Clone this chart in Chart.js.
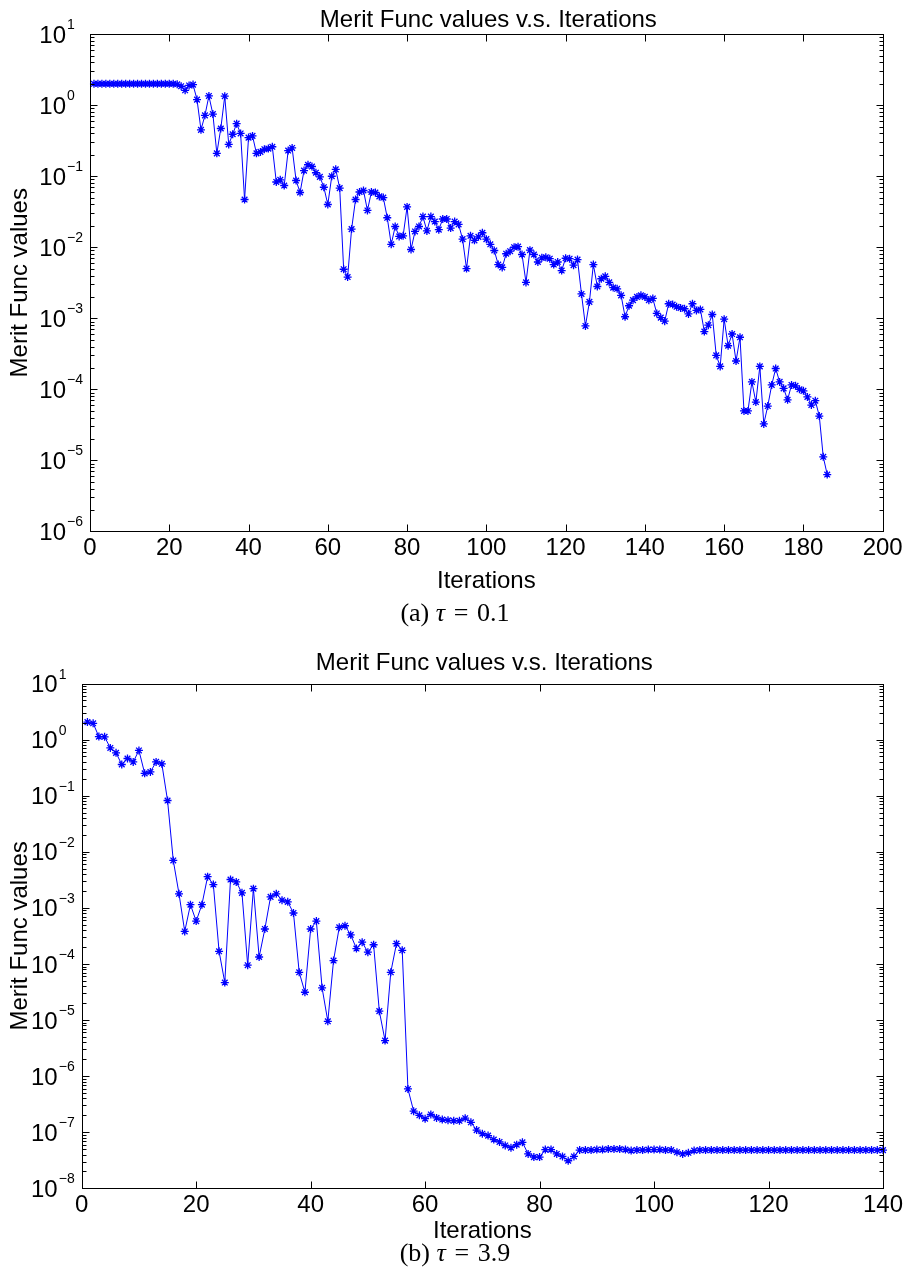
<!DOCTYPE html>
<html>
<head>
<meta charset="utf-8">
<script src="https://cdn.jsdelivr.net/npm/chart.js@4.4.1/dist/chart.umd.min.js"></script>
<style>
  body { margin: 0; background: #fff; }
  canvas { position: absolute; left: 0; }
  #chartA { top: 0; }
  #chartB { top: 640px; }
</style>
</head>
<body>
<canvas id="chartA" width="910" height="640"></canvas>
<canvas id="chartB" width="910" height="636"></canvas>
<script>
// merit function values, iteration 1..186 (tau = 0.1)
const meritA = [
  2.0, 2.0, 2.0, 2.0, 2.0, 2.0, 2.0, 2.0, 2.0, 2.0,
  2.0, 2.0, 2.0, 2.0, 2.0, 2.0, 2.0, 2.0, 2.0, 2.0,
  2.0, 1.97, 1.85, 1.62, 1.9, 1.95, 1.2, 0.45, 0.72, 1.35,
  0.75, 0.21, 0.47, 1.34, 0.28, 0.39, 0.55, 0.40, 0.047, 0.35,
  0.37, 0.21, 0.22, 0.24, 0.245, 0.26, 0.083, 0.089, 0.074, 0.23,
  0.25, 0.087, 0.059, 0.12, 0.145, 0.137, 0.112, 0.098, 0.07, 0.04,
  0.10, 0.125, 0.068, 0.0049, 0.0038, 0.018, 0.047, 0.06, 0.063, 0.033,
  0.06, 0.059, 0.052, 0.05, 0.026, 0.011, 0.0196, 0.0142, 0.0145, 0.037,
  0.0093, 0.0167, 0.0196, 0.027, 0.017, 0.027, 0.023, 0.0177, 0.025, 0.025,
  0.0186, 0.023, 0.021, 0.013, 0.005, 0.0145, 0.0125, 0.014, 0.016, 0.013,
  0.011, 0.009, 0.0057, 0.0052, 0.0081, 0.0088, 0.01, 0.0102, 0.0079, 0.0032,
  0.0091, 0.0079, 0.0062, 0.0071, 0.0072, 0.0069, 0.0057, 0.0062, 0.0047, 0.007,
  0.0069, 0.0056, 0.0067, 0.0022, 0.00078, 0.0017, 0.0057, 0.0028, 0.0036, 0.0039,
  0.0032, 0.0027, 0.0026, 0.0021, 0.00105, 0.0015, 0.0018, 0.0020, 0.0021, 0.0020,
  0.0018, 0.0019, 0.00117, 0.00102, 0.00091, 0.0016, 0.00156, 0.00145, 0.0014, 0.00136,
  0.00115, 0.0016, 0.00129, 0.00133, 0.00065, 0.0008, 0.00113, 0.0003, 0.00021, 0.00097,
  0.00041, 0.0006, 0.00025, 0.00054, 4.95e-5, 4.95e-5, 1.27e-4, 6.6e-5, 2.1e-4, 3.25e-5,
  5.8e-5, 1.15e-4, 1.96e-4, 1.27e-4, 1.03e-4, 7.1e-5, 1.15e-4, 1.12e-4, 1.0e-4, 9.5e-5,
  7.8e-5, 6.0e-5, 6.9e-5, 4.2e-5, 1.12e-5, 6.3e-6
];

// merit function values, iteration 1..140 (tau = 3.9)
const meritB = [
  2.05, 1.95, 1.13, 1.12, 0.71, 0.58, 0.36, 0.46, 0.40, 0.64,
  0.25, 0.265, 0.40, 0.37, 0.082, 0.007, 0.00178, 0.00038, 0.00114, 0.00058,
  0.00114, 0.0036, 0.0026, 1.68e-4, 4.66e-5, 0.0032, 0.0029, 0.00185, 9.5e-5, 0.0022,
  1.33e-4, 4.2e-4, 0.00157, 0.00178, 0.00137, 0.00128, 8.1e-4, 7.1e-5, 3.13e-5, 4.2e-4,
  5.8e-4, 3.75e-5, 9.5e-6, 1.15e-4, 4.5e-4, 4.8e-4, 3.3e-4, 1.88e-4, 2.44e-4, 1.62e-4,
  2.2e-4, 1.44e-5, 4.3e-6, 7.1e-5, 2.3e-4, 1.75e-4, 5.9e-7, 2.37e-7, 2.0e-7, 1.74e-7,
  2.07e-7, 1.8e-7, 1.68e-7, 1.63e-7, 1.6e-7, 1.6e-7, 1.78e-7, 1.5e-7, 1.09e-7, 9.4e-8,
  8.7e-8, 7.4e-8, 6.7e-8, 5.8e-8, 5.3e-8, 6.0e-8, 6.6e-8, 4.1e-8, 3.6e-8, 3.6e-8,
  4.9e-8, 4.9e-8, 4.1e-8, 3.7e-8, 3.1e-8, 3.7e-8, 4.8e-8, 4.8e-8, 4.8e-8, 4.9e-8,
  4.9e-8, 5.0e-8, 5.0e-8, 5.0e-8, 4.9e-8, 4.7e-8, 4.8e-8, 4.8e-8, 4.9e-8, 4.9e-8,
  4.9e-8, 4.8e-8, 4.8e-8, 4.4e-8, 4.1e-8, 4.3e-8, 4.7e-8, 4.8e-8, 4.8e-8, 4.8e-8,
  4.8e-8, 4.8e-8, 4.8e-8, 4.8e-8, 4.8e-8, 4.8e-8, 4.8e-8, 4.8e-8, 4.8e-8, 4.8e-8,
  4.8e-8, 4.8e-8, 4.8e-8, 4.8e-8, 4.8e-8, 4.8e-8, 4.8e-8, 4.8e-8, 4.8e-8, 4.8e-8,
  4.8e-8, 4.8e-8, 4.8e-8, 4.8e-8, 4.8e-8, 4.8e-8, 4.8e-8, 4.8e-8, 4.8e-8, 4.8e-8
];

const xTicksA = [0, 20, 40, 60, 80, 100, 120, 140, 160, 180, 200];
const xTicksB = [0, 20, 40, 60, 80, 100, 120, 140];
const yExpA = [1, 0, -1, -2, -3, -4, -5, -6];
const yExpB = [1, 0, -1, -2, -3, -4, -5, -6, -7, -8];

const titleText = 'Merit Func values v.s. Iterations';
const xTitle = 'Iterations';
const yTitle = 'Merit Func values';
const captionA = ['(a) ', 'τ', '\u2004=\u20040.1'];
const captionB = ['(b) ', 'τ', '\u2004=\u20043.9'];

const SANS = '"Liberation Sans", Arial, Helvetica, sans-serif';
const SERIF = '"Liberation Serif", "Times New Roman", serif';

// MATLAB-like box: inward ticks on all sides, 10^k labels, titles
const matlabAxes = {
  id: 'matlabAxes',
  afterDatasetsDraw(chart, args, o) {
    const { ctx, chartArea: a, scales: { x, y } } = chart;
    const L = Math.round(a.left) + 0.5, R = Math.round(a.right) + 0.5;
    const T = Math.round(a.top) + 0.5, B = Math.round(a.bottom) + 0.5;
    ctx.save();
    ctx.strokeStyle = '#000';
    ctx.lineWidth = 1;
    ctx.strokeRect(L, T, R - L, B - T);

    ctx.beginPath();
    o.xTicks.forEach(v => {
      const px = Math.round(x.getPixelForValue(v)) + 0.5;
      ctx.moveTo(px, B); ctx.lineTo(px, B - 7);
      ctx.moveTo(px, T); ctx.lineTo(px, T + 7);
    });
    const emax = Math.max(...o.yExp), emin = Math.min(...o.yExp);
    for (let e = emin; e <= emax; e++) {
      const py = Math.round(y.getPixelForValue(Math.pow(10, e))) + 0.5;
      ctx.moveTo(L, py); ctx.lineTo(L + 7, py);
      ctx.moveTo(R, py); ctx.lineTo(R - 7, py);
      if (e < emax) {
        for (let m = 2; m <= 9; m++) {
          const pm = Math.round(y.getPixelForValue(m * Math.pow(10, e))) + 0.5;
          ctx.moveTo(L, pm); ctx.lineTo(L + 4, pm);
          ctx.moveTo(R, pm); ctx.lineTo(R - 4, pm);
        }
      }
    }
    ctx.stroke();

    ctx.fillStyle = '#000';
    // x tick labels
    ctx.font = '24px ' + SANS;
    ctx.textAlign = 'center';
    ctx.textBaseline = 'alphabetic';
    o.xTicks.forEach(v => {
      ctx.fillText(String(v), x.getPixelForValue(v), a.bottom + o.xLabelGap + 8.6);
    });
    // y tick labels 10^k
    o.yExp.forEach(e => {
      const py = y.getPixelForValue(Math.pow(10, e));
      ctx.font = '24px ' + SANS;
      ctx.textAlign = 'right';
      ctx.fillText('10', a.left - 24, py + 8.6);
      ctx.font = '14px ' + SANS;
      ctx.textAlign = 'left';
      ctx.fillText(String(e).replace('-', '\u2212'), a.left - 23, py - 5);
    });
    // titles
    const cx = (a.left + a.right) / 2;
    ctx.font = '24px ' + SANS;
    ctx.textAlign = 'center';
    ctx.fillText(o.title, cx + 2, o.titleY + 8.6);
    ctx.fillText(o.xTitle, cx, o.xTitleY + 8.6);
    ctx.save();
    ctx.translate(18.5, (a.top + a.bottom) / 2);
    ctx.rotate(-Math.PI / 2);
    ctx.fillText(o.yTitle, 0, 8.6);
    ctx.restore();
    // caption with italic tau
    const parts = o.caption;
    const fonts = ['26px ' + SERIF, 'italic 26px ' + SERIF, '26px ' + SERIF];
    let w = 0;
    parts.forEach((p, i) => { ctx.font = fonts[i]; w += ctx.measureText(p).width; });
    let px = 455 - w / 2;
    ctx.textAlign = 'left';
    parts.forEach((p, i) => {
      ctx.font = fonts[i];
      ctx.fillText(p, px, o.captionY + 8.5);
      px += ctx.measureText(p).width;
    });
    ctx.restore();
  }
};

function makeChart(id, values, xMax, xTicks, yExp, pad, extra) {
  const pts = values.map((v, i) => ({ x: i + 1, y: v }));
  return new Chart(document.getElementById(id), {
    type: 'line',
    data: {
      datasets: [{
        data: pts,
        borderColor: '#0000ff',
        backgroundColor: '#0000ff',
        borderWidth: 1,
        pointStyle: 'star',
        pointRadius: 4,
        pointBorderWidth: 1.3,
        pointBorderColor: '#0000ff',
        tension: 0,
        clip: false
      }]
    },
    options: {
      responsive: false,
      animation: false,
      layout: { padding: pad },
      plugins: {
        legend: { display: false },
        tooltip: { enabled: false },
        matlabAxes: Object.assign({ xTicks, yExp, title: titleText, xTitle, yTitle }, extra)
      },
      scales: {
        x: { type: 'linear', min: 0, max: xMax, display: false },
        y: { type: 'logarithmic', min: Math.pow(10, Math.min(...yExp)), max: Math.pow(10, Math.max(...yExp)), display: false }
      }
    },
    plugins: [matlabAxes]
  });
}

makeChart('chartA', meritA, 200, xTicksA, yExpA,
  { left: 90, right: 27.3, top: 34.2, bottom: 108.7 },
  { titleY: 18, xTitleY: 579.3, captionY: 612.7, caption: captionA, xLabelGap: 15.4 });

makeChart('chartB', meritB, 140, xTicksB, yExpB,
  { left: 81.7, right: 27, top: 43.5, bottom: 87.7 },
  { titleY: 21.7, xTitleY: 589, captionY: 612, caption: captionB, xLabelGap: 14.7 });
</script>
</body>
</html>
